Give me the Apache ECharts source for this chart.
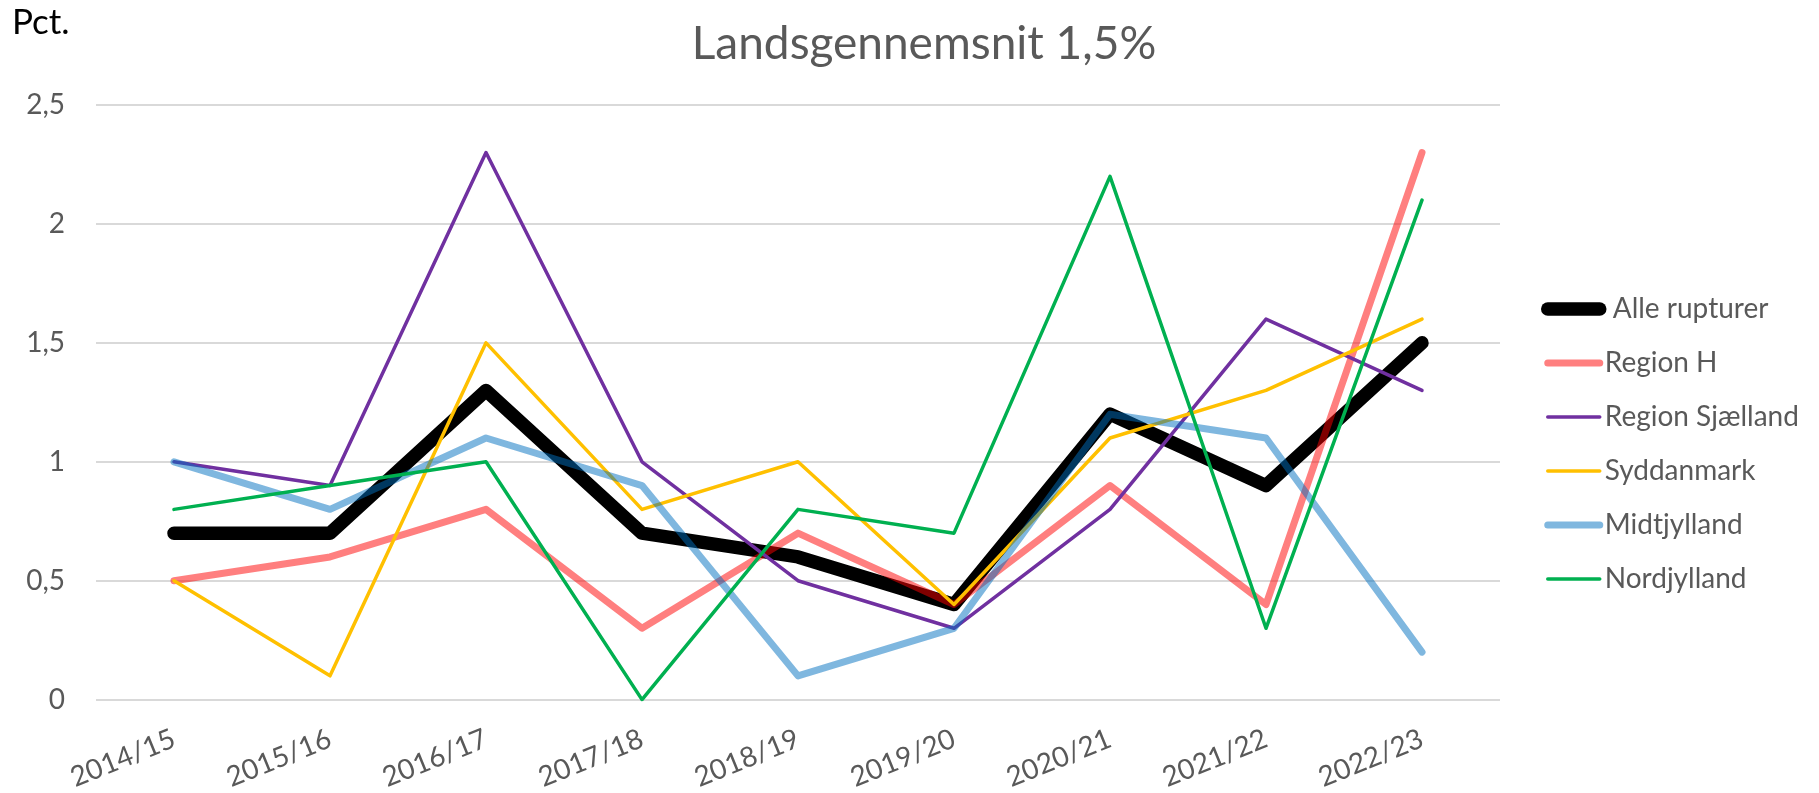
<!DOCTYPE html>
<html>
<head>
<meta charset="utf-8">
<script src="https://cdn.jsdelivr.net/npm/echarts@6/dist/echarts.min.js"></script>
<style>
  html, body { margin: 0; padding: 0; background: #fff; }
  #chart { width: 1819px; height: 793px; }
</style>
</head>
<body>
<div id="chart"></div>
<script>
const seasons = ['2014/15', '2015/16', '2016/17', '2017/18', '2018/19', '2019/20', '2020/21', '2021/22', '2022/23'];
const alleRupturer = [0.7, 0.7, 1.3, 0.7, 0.6, 0.4, 1.2, 0.9, 1.5];
const regionH = [0.5, 0.6, 0.8, 0.3, 0.7, 0.4, 0.9, 0.4, 2.3];
const regionSjaelland = [1.0, 0.9, 2.3, 1.0, 0.5, 0.3, 0.8, 1.6, 1.3];
const syddanmark = [0.5, 0.1, 1.5, 0.8, 1.0, 0.4, 1.1, 1.3, 1.6];
const midtjylland = [1.0, 0.8, 1.1, 0.9, 0.1, 0.3, 1.2, 1.1, 0.2];
const nordjylland = [0.8, 0.9, 1.0, 0.0, 0.8, 0.7, 2.2, 0.3, 2.1];

const font = 'Lato, "Liberation Sans", sans-serif';

const styles = [
    {name: 'Alle rupturer', data: alleRupturer, color: '#000000', width: 13.5},
    {name: 'Region H', data: regionH, color: 'rgba(255,0,0,0.5)', width: 7},
    {name: 'Region Sjælland', data: regionSjaelland, color: '#7030A0', width: 3.5},
    {name: 'Syddanmark', data: syddanmark, color: '#FFC000', width: 3.5},
    {name: 'Midtjylland', data: midtjylland, color: 'rgba(0,112,192,0.5)', width: 7},
    {name: 'Nordjylland', data: nordjylland, color: '#00B050', width: 3.5}
];

const chart = echarts.init(document.getElementById('chart'));
chart.setOption({
    animation: false,
    backgroundColor: '#ffffff',
    title: {
        text: 'Landsgennemsnit 1,5%',
        left: 919,
        textAlign: 'center',
        top: 16,
        textStyle: {fontFamily: font, fontSize: 46, fontWeight: 'normal', color: '#595959'}
    },
    graphic: [{
        type: 'text',
        left: 12,
        top: 5,
        style: {text: 'Pct.', font: '35px ' + font, fill: '#000000'}
    }],
    legend: {
        orient: 'vertical',
        left: 1541,
        top: 295,
        padding: 0,
        itemWidth: 52,
        itemHeight: 14,
        itemGap: 26,
        itemStyle: {color: 'rgba(0,0,0,0)', borderWidth: 0},
        textStyle: {fontFamily: font, fontSize: 28, color: '#595959'},
        data: styles.map((s, i) => ({
            name: s.name,
            lineStyle: {width: s.width, cap: 'round'},
            textStyle: i === 0 ? {padding: [0, 0, 0, 8]} : {}
        }))
    },
    grid: {left: 96, right: 319, top: 105, bottom: 90},
    xAxis: {
        type: 'category',
        data: seasons,
        boundaryGap: true,
        axisLine: {show: false},
        axisTick: {show: false},
        axisLabel: {rotate: 22, margin: 38, fontFamily: font, fontSize: 28, color: '#595959'}
    },
    yAxis: {
        type: 'value',
        min: 0,
        max: 2.5,
        interval: 0.5,
        axisLine: {show: false},
        axisTick: {show: false},
        splitLine: {lineStyle: {color: '#d9d9d9', width: 2}},
        axisLabel: {
            margin: 31,
            fontFamily: font,
            fontSize: 28,
            color: '#595959',
            formatter: v => String(v).replace('.', ',')
        }
    },
    series: styles.map(s => ({
        name: s.name,
        type: 'line',
        data: s.data,
        symbol: 'none',
        lineStyle: {color: s.color, width: s.width, cap: 'round', join: 'round'},
        itemStyle: {color: s.color}
    }))
});
window.addEventListener('resize', function () {
    chart.resize();
});
</script>
</body>
</html>
